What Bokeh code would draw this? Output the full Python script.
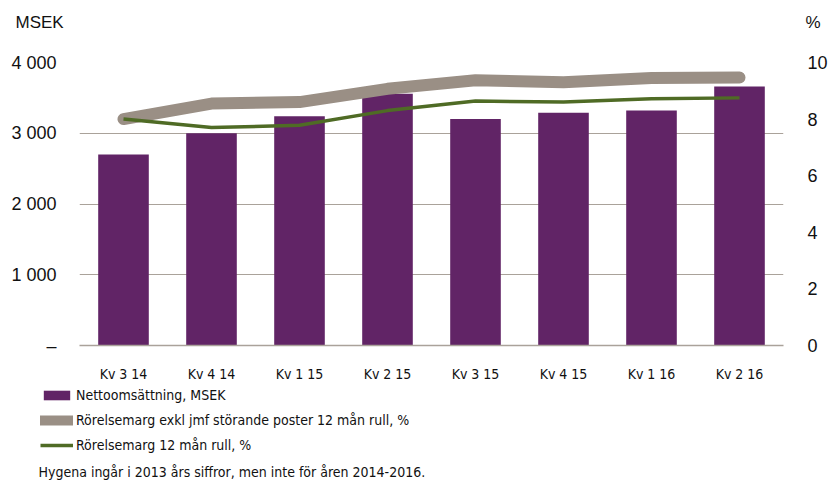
from bokeh.plotting import figure
from bokeh.models import (Range1d, LinearAxis, FixedTicker, Legend, LegendItem, Label,
                          ColumnDataSource)
from bokeh.layouts import column
from bokeh.embed import file_html
from bokeh.resources import INLINE

quarters = ["Kv 3 14", "Kv 4 14", "Kv 1 15", "Kv 2 15", "Kv 3 15", "Kv 4 15", "Kv 1 16", "Kv 2 16"]
net_sales = [2700, 3000, 3240, 3560, 3200, 3290, 3320, 3660]
margin_excl = [8.0, 8.55, 8.6, 9.07, 9.37, 9.3, 9.45, 9.47]
margin_roll = [8.0, 7.7, 7.78, 8.3, 8.64, 8.6, 8.72, 8.75]
left_ticks = [0, 1000, 2000, 3000, 4000]
left_labels = ["–", "1 000", "2 000", "3 000", "4 000"]
right_ticks = [0, 2, 4, 6, 8, 10]
series_names = ["Nettoomsättning, MSEK",
                "Rörelsemarg exkl jmf störande poster 12 mån rull, %",
                "Rörelsemarg 12 mån rull, %"]
footnote = "Hygena ingår i 2013 års siffror, men inte för åren 2014-2016."

BAR = "#612466"
GRAY = "#9a8f85"
GREEN = "#4f6b25"
GRID = "#aaa29a"
TXT = "#111111"
NUM_FONT = "'Liberation Sans', sans-serif"
NARROW = "'Liberation Sans Narrow', 'DejaVu Sans Condensed', sans-serif"
W = 830


def strip(height):
    f = figure(width=W, height=height, output_backend="svg", toolbar_location=None,
               x_axis_location=None, y_axis_location=None,
               x_range=Range1d(0, W), y_range=Range1d(0, height),
               min_border=0, min_border_left=0, min_border_right=0,
               min_border_top=0, min_border_bottom=0)
    f.outline_line_color = None
    f.grid.grid_line_color = None
    f.frame_align = False
    return f


# ---- top strip: unit labels
top = strip(50)
top.add_layout(Label(x=15, y=28, x_units="screen", y_units="screen", text="MSEK",
                     text_font=NUM_FONT, text_font_size="17px", text_baseline="middle",
                     text_color=TXT))
top.add_layout(Label(x=805, y=28, x_units="screen", y_units="screen", text="%",
                     text_font=NUM_FONT, text_font_size="17px", text_baseline="middle",
                     text_color=TXT))

# ---- main chart
src = ColumnDataSource(dict(q=quarters, sales=net_sales, excl=margin_excl, roll=margin_roll))

p = figure(width=W, height=334, x_range=quarters, y_range=Range1d(0, 4000),
           output_backend="svg", toolbar_location=None,
           min_border_left=79, min_border_right=41, min_border_top=12, min_border_bottom=32)
p.outline_line_color = None
p.frame_align = False
p.extra_y_ranges = {"pct": Range1d(0, 10)}

p.vbar(x="q", top="sales", width=0.575, source=src, fill_color=BAR, line_color=None)
p.line(x="q", y="excl", source=src, y_range_name="pct", line_color=GRAY,
       line_width=12, line_cap="round", line_join="round")
p.line(x="q", y="roll", source=src, y_range_name="pct", line_color=GREEN,
       line_width=3.5, line_join="round")

p.xgrid.grid_line_color = None
p.ygrid.ticker = FixedTicker(ticks=left_ticks)
p.ygrid.grid_line_color = GRID
p.ygrid.grid_line_width = 1

ya = p.yaxis[0]
ya.ticker = FixedTicker(ticks=left_ticks)
ya.major_label_overrides = {t: s for t, s in zip(left_ticks, left_labels)}
ya.axis_line_color = None
ya.major_tick_line_color = None
ya.minor_tick_line_color = None
ya.major_label_standoff = 17
ya.major_label_text_font = NUM_FONT
ya.major_label_text_font_size = "18px"
ya.major_label_text_color = TXT

ra = LinearAxis(y_range_name="pct", ticker=FixedTicker(ticks=right_ticks))
ra.axis_line_color = None
ra.major_tick_line_color = None
ra.minor_tick_line_color = None
ra.major_label_standoff = 18
ra.major_label_text_font = NUM_FONT
ra.major_label_text_font_size = "18px"
ra.major_label_text_color = TXT
p.add_layout(ra, "right")

xa = p.xaxis[0]
xa.axis_line_color = GRID
xa.axis_line_width = 1.5
xa.major_tick_line_color = None
xa.minor_tick_line_color = None
xa.major_label_standoff = 14
xa.major_label_text_font = NARROW
xa.major_label_text_font_size = "14px"
xa.major_label_text_color = TXT

# ---- bottom strip: legend + footnote (legend keys are hidden copies of the series)
bot = strip(97)
k_bar = bot.vbar(x="excl", top="excl", width=1, source=src, fill_color=BAR,
                 line_color=None, visible=False)
k_gray = bot.line(x="excl", y="excl", source=src, line_color=GRAY, line_width=10,
                  line_cap="round", visible=False)
k_green = bot.line(x="roll", y="roll", source=src, line_color=GREEN, line_width=3.5,
                   visible=False)
legend = Legend(items=[LegendItem(label=series_names[0], renderers=[k_bar]),
                       LegendItem(label=series_names[1], renderers=[k_gray]),
                       LegendItem(label=series_names[2], renderers=[k_green])],
                location=(40, 26), orientation="vertical",
                glyph_width=33, glyph_height=12, label_height=20, spacing=5,
                padding=0, margin=0, label_standoff=3,
                label_text_font=NARROW, label_text_font_size="14px", label_text_color=TXT,
                border_line_color=None, background_fill_alpha=0)
bot.add_layout(legend, "center")
bot.add_layout(Label(x=38, y=10, x_units="screen", y_units="screen", text=footnote,
                     text_font=NARROW, text_font_size="14px", text_baseline="middle",
                     text_color=TXT))

layout = column(top, p, bot, spacing=0)
open("out.html", "w").write(file_html(layout, INLINE))
